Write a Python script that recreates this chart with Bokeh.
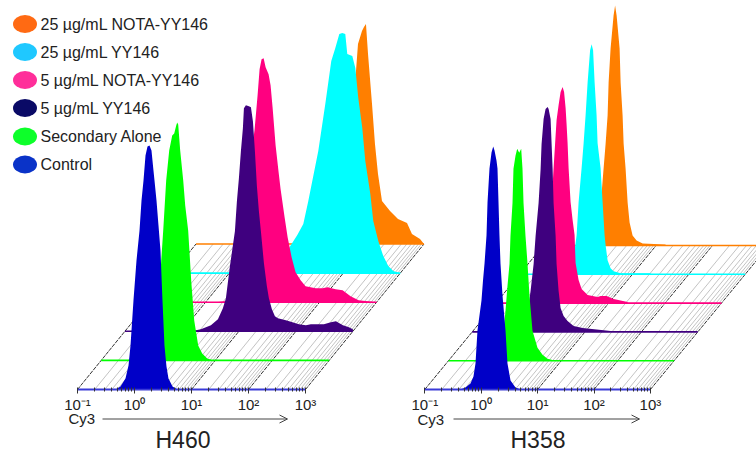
import numpy as np
from bokeh.embed import file_html
from bokeh.resources import INLINE
from bokeh.plotting import figure
from bokeh.models import Range1d, LinearAxis, FixedTicker, Arrow, OpenHead
from bokeh.core.properties import value

# ---- legend / rows, front to back
series = ["Control", "Secondary Alone", "5 µg/mL YY146", "5 µg/mL NOTA-YY146", "25 µg/mL YY146", "25 µg/mL NOTA-YY146"]
fill_colors = ["#0000c8", "#00ff00", "#3f007f", "#ff0080", "#00ffff", "#ff7f00"]
legend_colors = ["#0a33c8", "#0dff2a", "#0a0a66", "#ff2e9a", "#1fc8ff", "#ff6a13"]
tick_values = [-1, 0, 1, 2, 3]
tick_labels = ["10⁻¹", "10⁰", "10¹", "10²", "10³"]

# ---- H460 histograms: log10(Cy3), height
h460_control_x = [-0.333, -0.246, -0.158, -0.105, -0.070, -0.018, 0.035, 0.088, 0.123, 0.158, 0.193, 0.228, 0.263, 0.298, 0.333, 0.351, 0.386, 0.421, 0.456, 0.491, 0.526, 0.561, 0.596, 0.667, 0.754]
h460_control_h = [0, 3, 11, 24, 44, 89, 129, 159, 189, 209, 234, 243, 244, 239, 219, 209, 189, 164, 139, 89, 44, 23, 11, 3, 0]
h460_secondary_x = [-0.123, -0.035, 0.018, 0.053, 0.088, 0.140, 0.193, 0.246, 0.281, 0.316, 0.333, 0.351, 0.386, 0.439, 0.474, 0.526, 0.579, 0.632, 0.702, 0.772, 0.860, 0.965]
h460_secondary_h = [1, 20, 60, 100, 130, 180, 210, 225, 227, 235, 238, 236, 210, 180, 155, 130, 80, 40, 15, 7, 2, 0]
h460_yy5_x = [0.158, 0.333, 0.509, 0.632, 0.719, 0.772, 0.842, 0.930, 0.965, 1.0, 1.035, 1.070, 1.088, 1.123, 1.175, 1.211, 1.246, 1.281, 1.316, 1.351, 1.386, 1.439, 1.491, 1.526, 1.579, 1.632, 1.684, 1.825, 2.053, 2.175, 2.263, 2.491, 2.614, 2.702, 2.825, 2.930, 3.0]
h460_yy5_h = [0, 2, 6, 12, 23, 33, 65, 100, 130, 153, 180, 203, 223, 226, 225, 224, 210, 180, 145, 120, 100, 68, 45, 33, 22, 15, 13, 11, 7, 6, 7, 7, 9, 10, 6, 4, 2]
h460_nota5_x = [0.175, 0.351, 0.526, 0.649, 0.754, 0.860, 0.912, 0.947, 0.982, 1.018, 1.053, 1.105, 1.140, 1.175, 1.228, 1.281, 1.316, 1.386, 1.439, 1.509, 1.579, 1.667, 1.754, 1.930, 2.053, 2.140, 2.281, 2.404, 2.544, 2.684, 3.0]
h460_nota5_h = [0, 1, 10, 50, 125, 173, 207, 233, 243, 244, 235, 228, 217, 195, 157, 130, 113, 85, 65, 45, 30, 22, 16, 14, 14, 15, 13, 12, 6, 2, 0]
h460_yy25_x = [0.807, 0.947, 1.070, 1.193, 1.298, 1.386, 1.561, 1.684, 1.789, 1.860, 1.930, 1.982, 2.035, 2.070, 2.158, 2.211, 2.263, 2.333, 2.386, 2.474, 2.526, 2.614, 2.702, 2.789, 2.877, 2.982]
h460_yy25_h = [0, 10, 27, 38, 49, 72, 122, 169, 212, 225, 239, 240, 239, 219, 217, 205, 175, 145, 112, 79, 52, 32, 17, 7, 2, 0]
h460_nota25_x = [1.439, 1.614, 1.702, 1.772, 1.807, 1.842, 1.912, 1.947, 1.982, 2.018, 2.088, 2.140, 2.193, 2.263, 2.404, 2.544, 2.702, 2.789, 2.930, 3.0]
h460_nota25_h = [0, 43, 113, 153, 173, 200, 213, 217, 220, 190, 140, 100, 70, 43, 33, 25, 21, 10, 5, 0]

# ---- H358 histograms: log10(Cy3), height
h358_control_x = [-0.367, -0.278, -0.190, -0.137, -0.101, -0.066, 0.005, 0.032, 0.059, 0.094, 0.112, 0.147, 0.183, 0.213, 0.236, 0.271, 0.289, 0.307, 0.324, 0.342, 0.378, 0.431, 0.466, 0.520, 0.608, 0.697]
h358_control_h = [0, 2, 6, 13, 26, 59, 89, 109, 126, 154, 187, 221, 237, 243, 239, 229, 221, 187, 154, 126, 94, 59, 26, 9, 2, 0]
h358_secondary_x = [-0.167, -0.078, -0.025, 0.011, 0.046, 0.082, 0.099, 0.135, 0.152, 0.188, 0.218, 0.254, 0.289, 0.312, 0.330, 0.365, 0.401, 0.436, 0.489, 0.578, 0.667, 0.755, 0.897]
h358_secondary_h = [0, 15, 30, 50, 75, 97, 125, 158, 192, 205, 212, 208, 212, 192, 158, 125, 97, 65, 30, 13, 6, 2, 0]
h358_yy5_x = [-0.177, -0.071, 0.0, 0.035, 0.089, 0.124, 0.177, 0.213, 0.230, 0.266, 0.301, 0.337, 0.355, 0.390, 0.408, 0.426, 0.443, 0.479, 0.496, 0.532, 0.567, 0.621, 0.691, 0.798, 0.957, 1.454]
h358_yy5_h = [0, 11, 26, 41, 68, 96, 129, 163, 188, 213, 223, 225, 223, 213, 188, 163, 129, 96, 68, 41, 24, 16, 11, 6, 4, 1]
h358_nota5_x = [-0.207, -0.119, -0.048, -0.012, 0.023, 0.059, 0.076, 0.112, 0.147, 0.183, 0.209, 0.236, 0.254, 0.271, 0.289, 0.324, 0.360, 0.395, 0.413, 0.466, 0.520, 0.626, 0.803, 0.856, 0.963, 1.087, 1.335]
h358_nota5_h = [0, 13, 63, 101, 135, 168, 183, 198, 211, 216, 211, 195, 178, 160, 135, 101, 83, 68, 40, 23, 14, 8, 6, 7, 7, 4, 1]
h358_yy25_x = [-0.273, -0.096, -0.025, 0.011, 0.046, 0.099, 0.135, 0.170, 0.206, 0.250, 0.277, 0.303, 0.330, 0.365, 0.383, 0.436, 0.472, 0.507, 0.525, 0.560, 0.613, 0.667, 0.791, 1.323]
h358_yy25_h = [0, 9, 24, 39, 72, 106, 131, 159, 192, 224, 230, 224, 192, 159, 131, 106, 72, 39, 29, 14, 6, 3, 1, 1]
h358_nota25_x = [-0.161, -0.055, 0.016, 0.069, 0.105, 0.140, 0.158, 0.193, 0.246, 0.273, 0.300, 0.353, 0.371, 0.406, 0.424, 0.459, 0.495, 0.530, 0.583, 0.654, 0.761, 1.168]
h358_nota25_h = [0, 20, 40, 77, 102, 130, 163, 197, 230, 240, 230, 197, 163, 130, 102, 77, 43, 23, 10, 5, 2, 1]

h460_rows = [(h460_control_x, h460_control_h), (h460_secondary_x, h460_secondary_h), (h460_yy5_x, h460_yy5_h),
             (h460_nota5_x, h460_nota5_h), (h460_yy25_x, h460_yy25_h), (h460_nota25_x, h460_nota25_h)]
h358_rows = [(h358_control_x, h358_control_h), (h358_secondary_x, h358_secondary_h), (h358_yy5_x, h358_yy5_h),
             (h358_nota5_x, h358_nota5_h), (h358_yy25_x, h358_yy25_h), (h358_nota25_x, h358_nota25_h)]

W, H = 756, 456
BASE_PX = 389.0


def data_y(py):
    return BASE_PX - py


# left-panel scale: decade = 57 px, 10^-1 at px 77; right-panel: decade = 56.4 px, 10^-1 at px 424.3
p = figure(width=W, height=H, output_backend="svg", toolbar_location=None,
           x_range=Range1d(-1 - 77 / 57, -1 + (W - 77) / 57),
           y_range=Range1d(data_y(H), data_y(0)),
           min_border=0, margin=0)
p.extra_x_ranges = {"h358": Range1d(-1 - 424.3 / 56.4, -1 + (W - 424.3) / 56.4)}
p.outline_line_color = None
p.background_fill_color = "white"
p.xgrid.visible = False
p.ygrid.visible = False
p.yaxis.visible = False
FONT = "Liberation Sans"
minor = [d + m for d in tick_values[:-1] for m in np.log10(np.arange(2, 10)).tolist()]


def panel(rows, dx, dy, range_name):
    n = len(rows) - 1
    p.segment(minor, 0, [m + n * dx for m in minor], n * dy, x_range_name=range_name,
              line_color="#9a9a9a", line_width=0.6)
    p.segment(tick_values, 0, [t + n * dx for t in tick_values], n * dy, x_range_name=range_name,
              line_color="#333333", line_width=1, line_dash="4 1")
    for i in range(n, -1, -1):
        x, h = rows[i]
        x = np.array(x) + i * dx
        base = i * dy
        p.line([-1 + i * dx, 3 + i * dx], [base, base], x_range_name=range_name,
               line_color=fill_colors[i], line_width=1.6)
        p.varea(x, base, base + np.array(h), x_range_name=range_name, fill_color=fill_colors[i])


panel(h460_rows, 23.7 / 57, 29.1, "default")
panel(h358_rows, 23.7 / 56.4, 28.8, "h358")


def style_axis(ax):
    ax.ticker = FixedTicker(ticks=tick_values, minor_ticks=minor)
    ax.major_label_overrides = dict(zip(tick_values, tick_labels))
    ax.fixed_location = 0
    ax.bounds = (-1, 3)
    ax.axis_line_color = "#3a3ad8"
    ax.axis_line_width = 1.6
    ax.major_tick_line_color = "#333333"
    ax.minor_tick_line_color = "#333333"
    ax.major_tick_in = 2
    ax.major_tick_out = 4
    ax.minor_tick_in = 2
    ax.minor_tick_out = 2
    ax.major_label_standoff = 2
    ax.major_label_text_font = FONT
    ax.major_label_text_font_size = "15px"
    ax.major_label_text_color = "#222222"


style_axis(p.xaxis[0])
ax2 = LinearAxis(x_range_name="h358")
style_axis(ax2)
p.add_layout(ax2, "below")

# legend drawn as ellipses + labels, top to bottom
legend_py = [164, 136, 107.5, 79.5, 51.5, 23.5]
to_x = lambda px: -1 + (px - 77) / 57
p.ellipse([to_x(24.5)] * 6, [data_y(v) for v in legend_py], width=24, height=18,
          width_units="screen", height_units="screen", fill_color=legend_colors, line_color=None)
p.text([to_x(40)] * 6, [data_y(v) for v in legend_py], text=series, text_font=value(FONT),
       text_font_size="16px", text_color="#222222", text_baseline="middle", text_align="left")

# axis captions
p.text([to_x(68)], [data_y(418)], text=["Cy3"], text_font=value(FONT), text_font_size="15px",
       text_color="#222222", text_baseline="middle")
p.text([to_x(417)], [data_y(419)], text=["Cy3"], text_font=value(FONT), text_font_size="15px",
       text_color="#222222", text_baseline="middle")
p.text([to_x(182.5)], [data_y(439.5)], text=["H460"], text_font=value(FONT), text_font_size="23px",
       text_color="#222222", text_baseline="middle", text_align="center")
p.text([to_x(537.5)], [data_y(439.5)], text=["H358"], text_font=value(FONT), text_font_size="23px",
       text_color="#222222", text_baseline="middle", text_align="center")
for x0, x1 in ((102, 287), (453, 639)):
    p.add_layout(Arrow(end=OpenHead(size=8, line_color="#444444", line_width=1),
                       x_start=to_x(x0), y_start=data_y(418.5), x_end=to_x(x1), y_end=data_y(418.5),
                       line_color="#444444", line_width=1))

open("out.html", "w").write(file_html(p, INLINE))
